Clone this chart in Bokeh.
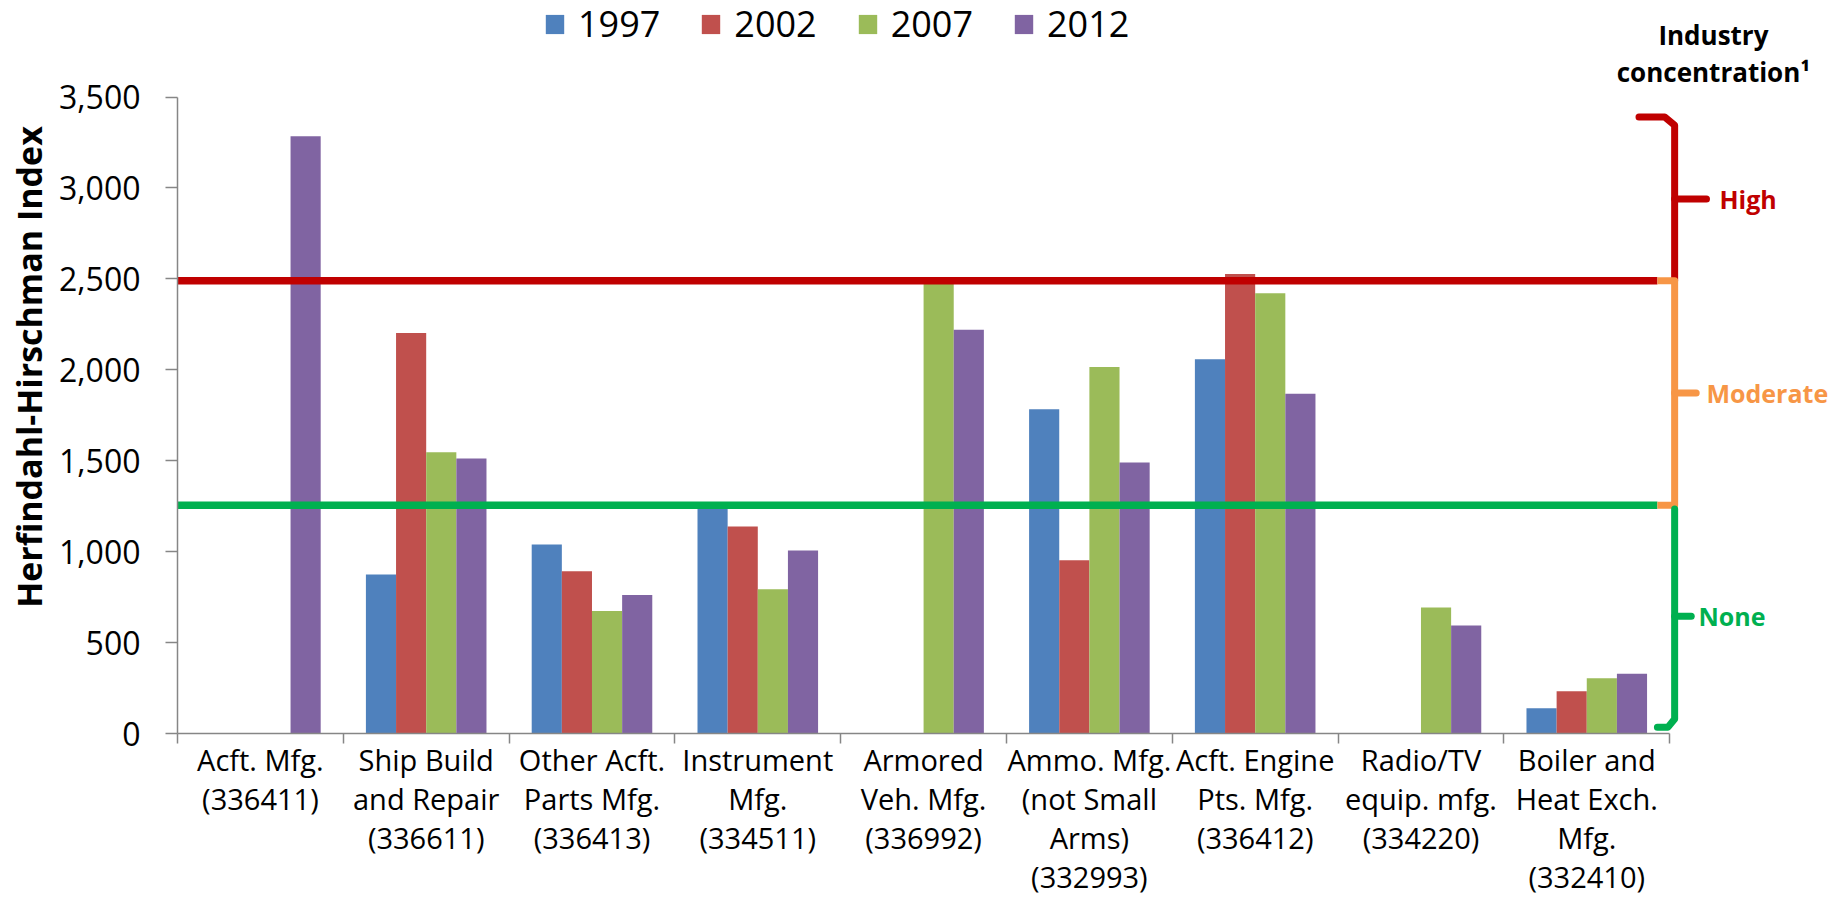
import numpy as np
from bokeh.plotting import figure
from bokeh.models import (Range1d, FixedTicker, NumeralTickFormatter, Legend,
                          LegendItem)
from bokeh.core.properties import value
from bokeh.embed import file_html
from bokeh.resources import INLINE

# ---------------- data ----------------
categories = [
    "Acft. Mfg.\n(336411)",
    "Ship Build\nand Repair\n(336611)",
    "Other Acft.\nParts Mfg.\n(336413)",
    "Instrument\nMfg.\n(334511)",
    "Armored\nVeh. Mfg.\n(336992)",
    "Ammo. Mfg.\n(not Small\nArms)\n(332993)",
    "Acft. Engine\nPts. Mfg.\n(336412)",
    "Radio/TV\nequip. mfg.\n(334220)",
    "Boiler and\nHeat Exch.\nMfg.\n(332410)",
]
years = ["1997", "2002", "2007", "2012"]
nan = float("nan")
hhi_1997 = [nan, 874, 1039, 1260, nan, 1783, 2058, nan, 139]
hhi_2002 = [nan, 2202, 892, 1138, nan, 953, 2527, nan, 233]
hhi_2007 = [nan, 1547, 674, 793, 2480, 2016, 2421, 693, 304]
hhi_2012 = [3285, 1512, 762, 1006, 2221, 1490, 1869, 594, 328]
y_ticks = [0, 500, 1000, 1500, 2000, 2500, 3000, 3500]
high_threshold = 2490
none_threshold = 1255
high_top = 3390
none_bottom = 35
band_labels = ["High", "Moderate", "None"]
side_title = ["Industry", "concentration\u00b9"]

series = [hhi_1997, hhi_2002, hhi_2007, hhi_2012]
colors = ["#4F81BD", "#C0504D", "#9BBB59", "#8064A2"]
band_colors = ["#C00000", "#F79646", "#00B050"]

FONT = value("Open Sans")
n = len(categories)
idx = np.arange(n)
bw = 1 / 5.5

p = figure(width=1828, height=906, output_backend="svg", toolbar_location=None,
           x_range=Range1d(0, 9.958), y_range=Range1d(0, 4031),
           min_border_left=177, min_border_right=0, min_border_top=0,
           min_border_bottom=173, outline_line_color=None)
p.xgrid.visible = False
p.ygrid.visible = False

# bars
renderers = []
for k, (vals, c) in enumerate(zip(series, colors)):
    r = p.vbar(x=idx + 0.5 + (k - 1.5) * bw, top=vals, width=bw,
               fill_color=c, line_color=None)
    renderers.append(r)

# x axis: ticks at category boundaries (minor), labels at centers
xa = p.xaxis[0]
xa.bounds = (0, n)
xa.ticker = FixedTicker(ticks=list(idx + 0.5), minor_ticks=list(range(n + 1)))
xa.major_label_overrides = {float(i + 0.5): c for i, c in enumerate(categories)}
xa.major_tick_out = 0
xa.major_tick_in = 0
xa.minor_tick_out = 10
xa.minor_tick_in = 0
xa.minor_tick_line_color = "#868686"
xa.minor_tick_line_width = 1.5
xa.axis_line_color = "#868686"
xa.axis_line_width = 1.5
xa.major_label_text_font = "Open Sans"
xa.major_label_text_font_size = "29px"
xa.major_label_text_color = "#000000"
xa.major_label_text_line_height = 1.0
xa.major_label_standoff = -4

# y axis
ya = p.yaxis[0]
ya.bounds = (0, 3500)
ya.ticker = FixedTicker(ticks=y_ticks)
ya.formatter = NumeralTickFormatter(format="0,0")
ya.minor_tick_line_color = None
ya.major_tick_out = 12
ya.major_tick_in = 0
ya.major_tick_line_color = "#868686"
ya.major_tick_line_width = 1.5
ya.axis_line_color = "#868686"
ya.axis_line_width = 1.5
ya.major_label_text_font = "Open Sans"
ya.major_label_text_font_size = "32px"
ya.major_label_text_color = "#000000"
ya.major_label_standoff = 25
ya.axis_label = "Herfindahl-Hirschman Index"
ya.axis_label_text_font = "Open Sans"
ya.axis_label_text_font_style = "bold"
ya.axis_label_text_font_size = "34px"
ya.axis_label_text_color = "#000000"
ya.axis_label_standoff = 4

# threshold lines
hook_x = n - 0.074
bx = n + 0.03
p.segment(x0=[0, 0], x1=[hook_x, hook_x], y0=[high_threshold, none_threshold],
          y1=[high_threshold, none_threshold],
          line_color=[band_colors[0], band_colors[2]], line_width=7.5)

# brackets
lw = 7
p.line(x=[n - 0.185, n - 0.03, bx, bx], y=[high_top, high_top, high_top - 45, high_threshold],
       line_color=band_colors[0], line_width=lw, line_join="round", line_cap="round")
p.line(x=[hook_x, bx, bx, hook_x], y=[high_threshold, high_threshold, none_threshold, none_threshold],
       line_color=band_colors[1], line_width=lw, line_join="round", line_cap="butt")
p.line(x=[bx, bx, n - 0.01, hook_x], y=[none_threshold - 20, none_bottom + 45, none_bottom, none_bottom],
       line_color=band_colors[2], line_width=lw, line_join="round", line_cap="round")

mids = [(high_top + high_threshold) / 2, (high_threshold + none_threshold) / 2,
        (none_threshold + none_bottom) / 2]
tick_ends = [n + 0.222, n + 0.16, n + 0.13]
text_x = [n + 0.30, n + 0.222, n + 0.174]
p.segment(x0=[bx] * 3, x1=tick_ends, y0=mids, y1=mids, line_color=band_colors,
          line_width=lw, line_cap="round")
p.text(x=text_x, y=mids, text=band_labels, text_color=band_colors,
       text_font=FONT, text_font_style="bold", text_font_size="25px",
       text_baseline="middle", text_align="left")

# side title
p.text(x=[n + 0.264, n + 0.264], y=[3842, 3640], text=side_title,
       text_color="#000000", text_font=FONT, text_font_style="bold",
       text_font_size="26px", text_baseline="alphabetic", text_align="center")

# legend
legend = Legend(items=[LegendItem(label=y, renderers=[r]) for y, r in zip(years, renderers)],
                orientation="horizontal", location=(366, 685),
                glyph_width=23, glyph_height=24, label_standoff=12, spacing=39,
                padding=0, margin=0, border_line_color=None,
                background_fill_alpha=0, label_text_font="Open Sans",
                label_text_font_size="36px", label_text_color="#000000")
p.add_layout(legend)

open("out.html", "w").write(file_html(p, INLINE))
